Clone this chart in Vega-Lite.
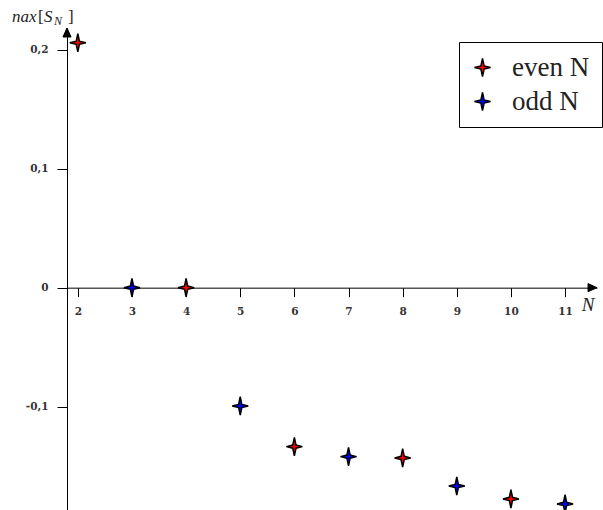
{
  "$schema": "https://vega.github.io/schema/vega-lite/v6.json",
  "width": 530,
  "height": 482,
  "autosize": {"type": "none"},
  "padding": {"left": 67, "top": 28, "right": 6, "bottom": 0},
  "background": "white",
  "config": {"view": {"stroke": null}},
  "datasets": {
    "pts": [
      {"N": 2, "value": 0.206, "parity": "even N"},
      {"N": 3, "value": 0.0, "parity": "odd N"},
      {"N": 4, "value": 0.0, "parity": "even N"},
      {"N": 5, "value": -0.0995, "parity": "odd N"},
      {"N": 6, "value": -0.1337, "parity": "even N"},
      {"N": 7, "value": -0.1421, "parity": "odd N"},
      {"N": 8, "value": -0.1432, "parity": "even N"},
      {"N": 9, "value": -0.1668, "parity": "odd N"},
      {"N": 10, "value": -0.1777, "parity": "even N"},
      {"N": 11, "value": -0.1819, "parity": "odd N"}
    ],
    "one": [{}]
  },
  "layer": [
    {
      "data": {"name": "pts"},
      "mark": {
        "type": "point",
        "shape": "M0,-1.15 L0.2,-0.2 L1,0 L0.2,0.2 L0,1.15 L-0.2,0.2 L-1,0 L-0.2,-0.2 Z",
        "filled": true,
        "stroke": "black",
        "strokeWidth": 1.5,
        "size": 256,
        "opacity": 1
      },
      "encoding": {
        "x": {
          "field": "N",
          "type": "quantitative",
          "scale": {"domain": [1.8, 11.59], "nice": false, "zero": false},
          "axis": {
            "values": [2, 3, 4, 5, 6, 7, 8, 9, 10, 11],
            "format": "d",
            "title": null,
            "offset": {"expr": "scale('y', 0) - height"},
            "grid": false,
            "tickSize": 9,
            "labelPadding": 10,
            "labelFont": "DejaVu Serif",
            "labelFontWeight": "bold",
            "labelFontSize": 10.5,
            "labelColor": "#333",
            "domainColor": "black",
            "tickColor": "black",
            "labelFlush": false,
            "labelOverlap": false
          }
        },
        "y": {
          "field": "value",
          "type": "quantitative",
          "scale": {"domain": [-0.187, 0.2184], "nice": false, "zero": false},
          "axis": {
            "values": [-0.1, 0, 0.1, 0.2],
            "title": null,
            "grid": false,
            "tickSize": 10,
            "labelPadding": 9,
            "labelFont": "DejaVu Serif",
            "labelFontWeight": "bold",
            "labelFontSize": 10.5,
            "labelColor": "#333",
            "domainColor": "black",
            "tickColor": "black",
            "labelExpr": "replace(replace(format(datum.value, '.1~f'), '.', ','), '\u2212', '-')"
          }
        },
        "fill": {
          "field": "parity",
          "type": "nominal",
          "scale": {"domain": ["even N", "odd N"], "range": ["#ff0000", "#0000ff"]},
          "legend": {
            "title": null,
            "orient": "none",
            "legendX": 392,
            "legendY": 14,
            "direction": "vertical",
            "strokeColor": "black",
            "fillColor": "white",
            "padding": 12,
            "cornerRadius": 0,
            "labelFont": "Liberation Serif",
            "labelFontSize": 27,
            "labelColor": "#222",
            "symbolType": "M0,-1.15 L0.2,-0.2 L1,0 L0.2,0.2 L0,1.15 L-0.2,0.2 L-1,0 L-0.2,-0.2 Z",
            "symbolSize": 256,
            "symbolStrokeColor": "black",
            "symbolStrokeWidth": 1.5,
            "symbolOffset": -2,
            "labelOffset": 16,
            "rowPadding": 6
          }
        }
      }
    },
    {
      "data": {"name": "one"},
      "mark": {"type": "point", "shape": "M0,0 L-0.45,1 L0.45,1 Z", "filled": true, "color": "black", "fill": "black", "stroke": "black", "strokeWidth": 1, "size": 324, "opacity": 1},
      "encoding": {"x": {"datum": 1.8, "type": "quantitative"}, "y": {"datum": 0.2184, "type": "quantitative"}}
    },
    {
      "data": {"name": "one"},
      "mark": {"type": "point", "shape": "M0,0 L-1,-0.45 L-1,0.45 Z", "filled": true, "color": "black", "fill": "black", "stroke": "black", "strokeWidth": 1, "size": 324, "opacity": 1},
      "encoding": {"x": {"datum": 11.59, "type": "quantitative"}, "y": {"datum": 0, "type": "quantitative"}}
    },
    {
      "data": {"name": "one"},
      "mark": {"type": "text", "text": "N", "font": "Liberation Serif", "fontStyle": "italic", "fontSize": 19, "color": "#222", "align": "center", "baseline": "alphabetic", "dx": -9, "dy": 23},
      "encoding": {"x": {"datum": 11.59, "type": "quantitative"}, "y": {"datum": 0, "type": "quantitative"}}
    },
    {
      "data": {"name": "one"},
      "mark": {"type": "text", "text": "nax", "font": "Liberation Serif", "fontStyle": "italic", "fontSize": 17, "color": "#222", "align": "left", "baseline": "alphabetic", "dx": -55, "dy": -6},
      "encoding": {"x": {"datum": 1.8, "type": "quantitative"}, "y": {"datum": 0.2184, "type": "quantitative"}}
    },
    {
      "data": {"name": "one"},
      "mark": {"type": "text", "text": "[", "font": "Liberation Serif", "fontSize": 17, "color": "#222", "align": "left", "baseline": "alphabetic", "dx": -29, "dy": -6},
      "encoding": {"x": {"datum": 1.8, "type": "quantitative"}, "y": {"datum": 0.2184, "type": "quantitative"}}
    },
    {
      "data": {"name": "one"},
      "mark": {"type": "text", "text": "S", "font": "Liberation Serif", "fontStyle": "italic", "fontSize": 17, "color": "#222", "align": "left", "baseline": "alphabetic", "dx": -23, "dy": -6},
      "encoding": {"x": {"datum": 1.8, "type": "quantitative"}, "y": {"datum": 0.2184, "type": "quantitative"}}
    },
    {
      "data": {"name": "one"},
      "mark": {"type": "text", "text": "N", "font": "Liberation Serif", "fontStyle": "italic", "fontSize": 12, "color": "#222", "align": "left", "baseline": "alphabetic", "dx": -13, "dy": -3},
      "encoding": {"x": {"datum": 1.8, "type": "quantitative"}, "y": {"datum": 0.2184, "type": "quantitative"}}
    },
    {
      "data": {"name": "one"},
      "mark": {"type": "text", "text": "]", "font": "Liberation Serif", "fontSize": 17, "color": "#222", "align": "left", "baseline": "alphabetic", "dx": 1, "dy": -6},
      "encoding": {"x": {"datum": 1.8, "type": "quantitative"}, "y": {"datum": 0.2184, "type": "quantitative"}}
    }
  ]
}
